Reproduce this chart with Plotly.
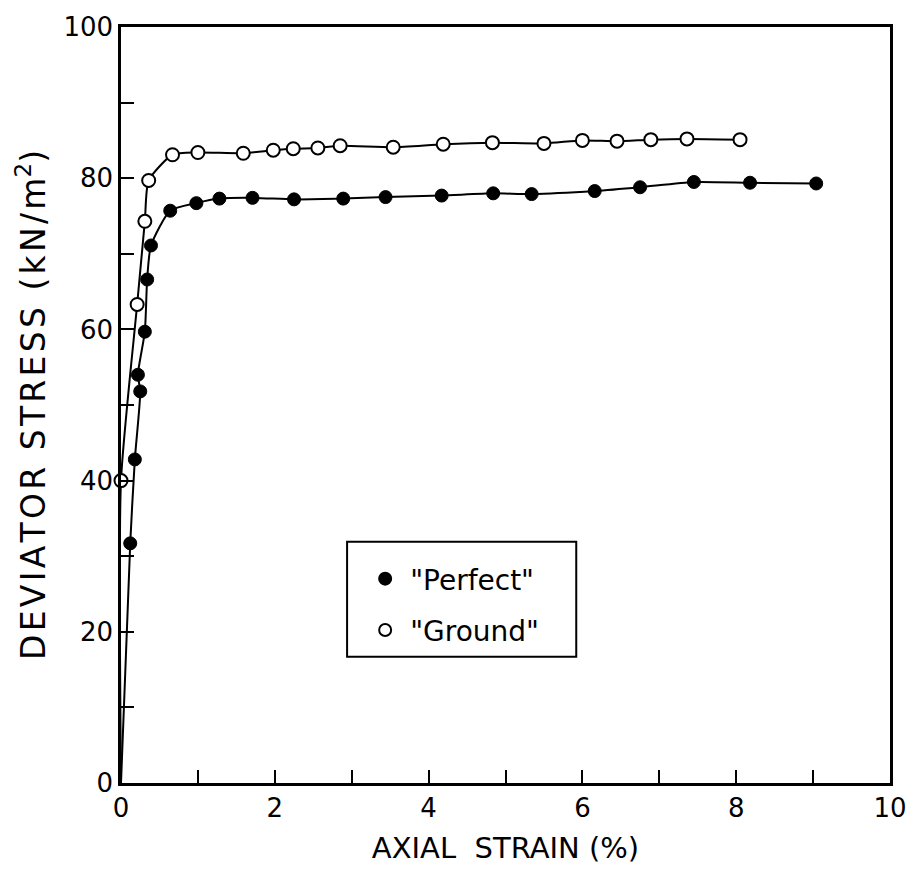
import plotly.graph_objects as go

# Axial strain (%) and deviator stress (kN/m^2) for the two specimens
perfect_strain = [0.12, 0.18, 0.25, 0.22, 0.31, 0.34, 0.39, 0.64, 0.98, 1.28, 1.71, 2.25,
                  2.89, 3.44, 4.17, 4.84, 5.34, 6.16, 6.75, 7.45, 8.18, 9.04]
perfect_stress = [31.7, 42.8, 51.8, 54.0, 59.7, 66.6, 71.1, 75.7, 76.7, 77.3, 77.4, 77.2,
                  77.3, 77.5, 77.7, 78.0, 77.9, 78.3, 78.8, 79.5, 79.4, 79.3]

ground_strain = [0.0, 0.21, 0.31, 0.36, 0.67, 1.0, 1.59, 1.98, 2.24, 2.56, 2.85, 3.54,
                 4.19, 4.83, 5.5, 6.0, 6.45, 6.89, 7.36, 8.05]
ground_stress = [40.0, 63.3, 74.3, 79.7, 83.1, 83.4, 83.3, 83.7, 83.9, 84.0, 84.3, 84.1,
                 84.5, 84.7, 84.6, 85.0, 84.9, 85.1, 85.2, 85.1]

# Both curves start from the origin
origin = (0.0, 0.0)

x_tick_vals = [0, 2, 4, 6, 8, 10]
x_tick_text = ["0", "2", "4", "6", "8", "10"]
y_tick_vals = [0, 20, 40, 60, 80, 100]
y_tick_text = ["0", "20", "40", "60", "80", "100"]

FONT = "DejaVu Sans"
HAIR = "\u200a"
EN = "\u2002"


def spaced(text):
    """Open up the lettering slightly, as on a stencilled drawing."""
    return HAIR.join(text)


y_title = (spaced("DEVIATOR") + EN + spaced("STRESS") + EN
           + spaced("(kN/m") + "<sup>2</sup>)")
x_title = "AXIAL  STRAIN (%)"

fig = go.Figure()

# Smooth curves through the measurements
fig.add_trace(go.Scatter(
    x=[origin[0]] + perfect_strain, y=[origin[1]] + perfect_stress,
    mode="lines", line=dict(color="black", width=2, shape="spline", smoothing=0.6),
    showlegend=False, hoverinfo="skip"))
fig.add_trace(go.Scatter(
    x=[origin[0]] + ground_strain, y=[origin[1]] + ground_stress,
    mode="lines", line=dict(color="black", width=2, shape="spline", smoothing=0.6),
    showlegend=False, hoverinfo="skip"))

# Measured points
fig.add_trace(go.Scatter(
    x=perfect_strain, y=perfect_stress, mode="markers", name='"Perfect"',
    legendgroup="p", cliponaxis=False,
    marker=dict(symbol="circle", size=13, color="black", line=dict(color="black", width=1))))
fig.add_trace(go.Scatter(
    x=ground_strain, y=ground_stress, mode="markers", name='"Ground"',
    legendgroup="g", cliponaxis=False,
    marker=dict(symbol="circle", size=13, color="white", line=dict(color="black", width=2))))

# Frame around the key
fig.add_shape(type="rect", xref="paper", yref="paper",
              x0=0.294, x1=0.592, y0=0.167, y1=0.319,
              line=dict(color="black", width=2), fillcolor="white", layer="below")

fig.update_layout(
    width=919, height=871,
    margin=dict(l=121, r=26, t=24, b=86),
    paper_bgcolor="white", plot_bgcolor="white",
    font=dict(family=FONT, color="black", size=24),
    legend=dict(
        x=0.311, y=0.303, xanchor="left", yanchor="top",
        borderwidth=0, bgcolor="rgba(0,0,0,0)",
        font=dict(size=28, family=FONT),
        traceorder="grouped", tracegroupgap=12,
        itemsizing="constant", itemwidth=40,
    ),
    xaxis=dict(
        range=[0, 10], tickvals=x_tick_vals, ticktext=x_tick_text,
        ticks="inside", ticklen=13, tickwidth=2, tickcolor="black",
        minor=dict(dtick=1, ticks="inside", ticklen=13, tickwidth=2, tickcolor="black"),
        showline=True, linecolor="black", linewidth=2.5, mirror=True,
        showgrid=False, zeroline=False,
        tickfont=dict(size=26, family=FONT),
        title=dict(text=x_title, font=dict(size=29, family=FONT), standoff=16),
    ),
    yaxis=dict(
        range=[0, 100], tickvals=y_tick_vals, ticktext=y_tick_text,
        ticks="inside", ticklen=13, tickwidth=2, tickcolor="black",
        minor=dict(dtick=10, ticks="inside", ticklen=13, tickwidth=2, tickcolor="black"),
        showline=True, linecolor="black", linewidth=2.5, mirror=True,
        showgrid=False, zeroline=False,
        tickfont=dict(size=26, family=FONT),
        title=dict(text=y_title, font=dict(size=33, family=FONT), standoff=8),
    ),
)

fig.write_html("out.html")
